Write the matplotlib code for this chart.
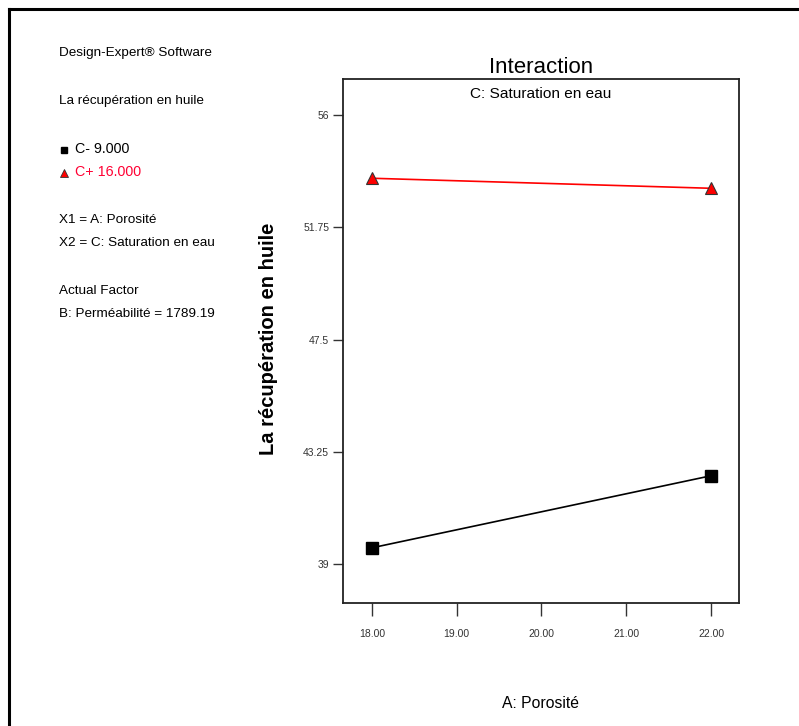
import matplotlib
matplotlib.use('Agg')
import matplotlib.pyplot as plt
from matplotlib.lines import Line2D

plt.rcParams['font.family'] = ['Liberation Sans Narrow', 'Liberation Sans', 'DejaVu Sans']

porosite = [18.0, 22.0]
c_moins = [39.61, 42.34]   # C- 9.000
c_plus = [53.61, 53.23]    # C+ 16.000
y_ticks = [39, 43.25, 47.5, 51.75, 56]
y_tick_labels = ['39', '43.25', '47.5', '51.75', '56']
x_ticks = [18, 19, 20, 21, 22]
x_tick_labels = ['18.00', '19.00', '20.00', '21.00', '22.00']

info_lines = [
    ('Design-Expert® Software', 53, 'black'),
    ('La récupération en huile', 101, 'black'),
    ('X1 = A: Porosité', 220, 'black'),
    ('X2 = C: Saturation en eau', 243, 'black'),
    ('Actual Factor', 291, 'black'),
    ('B: Perméabilité = 1789.19', 314, 'black'),
]

W, H = 799, 726
fig = plt.figure(figsize=(W / 100, H / 100), dpi=100)

# outer frame (left and top visible, the rest runs off the picture)
fig.add_artist(Line2D([9 / W, 9 / W], [0, 1 - 9 / H], color='black', lw=2.2))
fig.add_artist(Line2D([9 / W, 1], [1 - 9 / H, 1 - 9 / H], color='black', lw=2.2))

ax = fig.add_axes([343 / W, 1 - 603 / H, (739 - 343) / W, (603 - 79) / H])
ax.plot(porosite, c_moins, color='black', lw=1.2, marker='s', ms=8,
        markerfacecolor='black', markeredgecolor='black')
ax.plot(porosite, c_plus, color='red', lw=1.2, marker='^', ms=8,
        markerfacecolor='red', markeredgecolor='#333333', markeredgewidth=0.8)

ax.set_xlim(17.66, 22.33)
ax.set_ylim(37.52, 57.37)
ax.set_xticks(x_ticks)
ax.set_xticklabels(x_tick_labels)
ax.set_yticks(y_ticks)
ax.set_yticklabels(y_tick_labels)
ax.tick_params(axis='both', direction='out', labelsize=7.5, colors='#333333', width=1)
ax.tick_params(axis='y', length=7, pad=3)
ax.tick_params(axis='x', length=9, pad=10)
for s in ax.spines.values():
    s.set_linewidth(1.3)
    s.set_color('#222222')

ax.set_title('Interaction', fontsize=16, pad=4)
ax.text(0.5, 0.985, 'C: Saturation en eau', transform=ax.transAxes, ha='center', va='top', fontsize=11.1)
fig.text(268 / W, 1 - 339 / H, 'La récupération en huile', rotation=90, ha='center', va='center',
         fontsize=14.5, fontweight='bold', family=['Liberation Sans', 'DejaVu Sans'])
fig.text(540 / W, 1 - 703 / H, 'A: Porosité', ha='center', va='center', fontsize=11.3)

for txt, y, col in info_lines:
    fig.text(59 / W, 1 - y / H, txt, ha='left', va='center', fontsize=9.7, color=col)

# legend entries
fig.text(75 / W, 1 - 149 / H, 'C- 9.000', ha='left', va='center', fontsize=10.3, color='black')
fig.text(75 / W, 1 - 172 / H, 'C+ 16.000', ha='left', va='center', fontsize=10.3, color='#ff0033')
fig.add_artist(Line2D([64 / W], [1 - 150 / H], marker='s', ms=5, color='black', linestyle='none'))
fig.add_artist(Line2D([64 / W], [1 - 173 / H], marker='^', ms=5.5, markerfacecolor='red',
                      markeredgecolor='#333333', markeredgewidth=0.6, linestyle='none'))

fig.savefig('out.png', dpi=100)
